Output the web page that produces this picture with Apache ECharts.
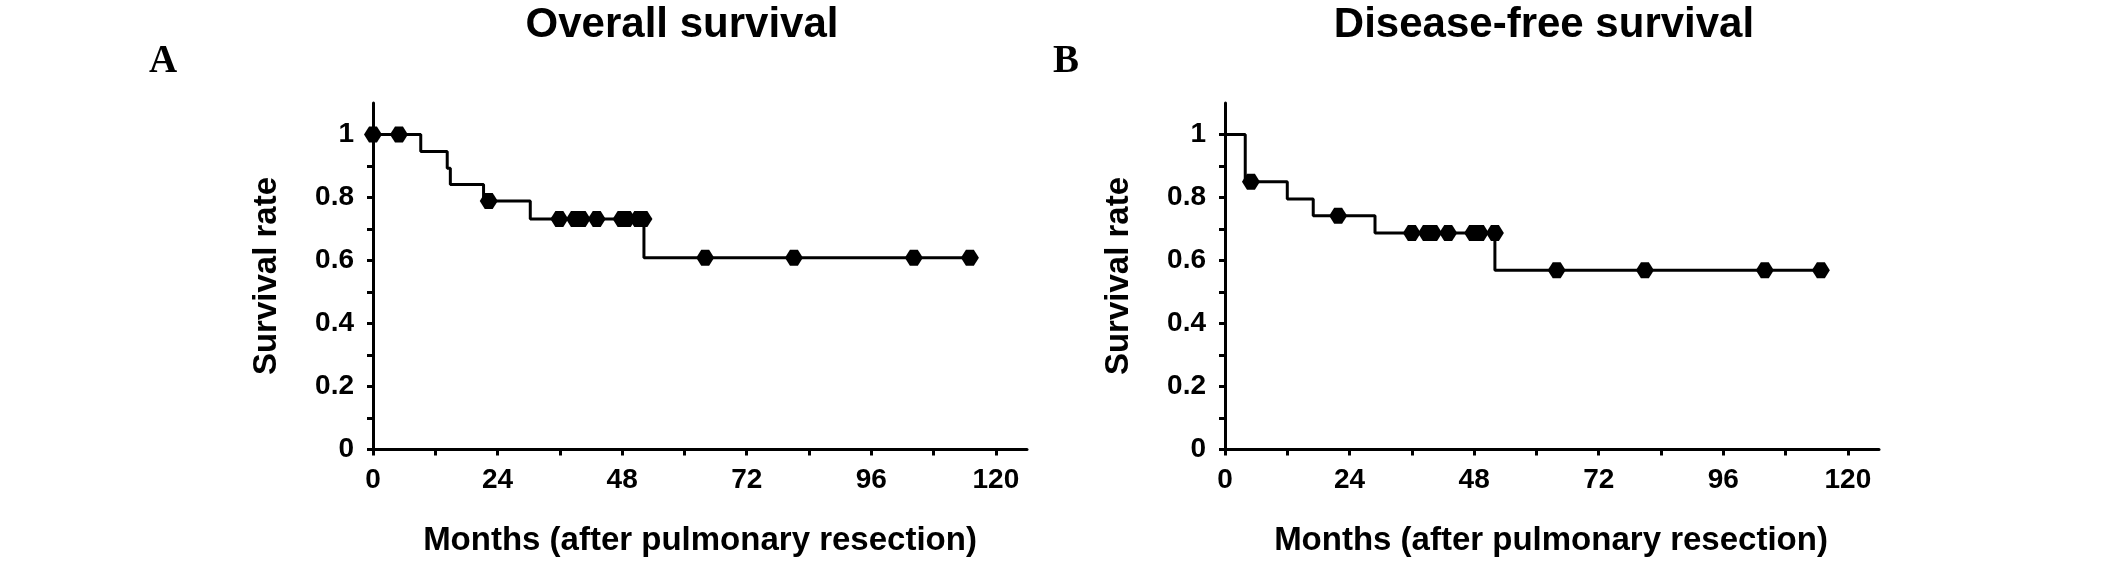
<!DOCTYPE html>
<html>
<head>
<meta charset="utf-8">
<script src="https://cdn.jsdelivr.net/npm/echarts@6/dist/echarts.min.js"></script>
<style>
html,body{margin:0;padding:0;background:#fff;}
#c{width:2126px;height:574px;}
</style>
</head>
<body>
<div id="c"></div>
<script>
// Overall survival (panel A)
const osTimes = [0, 9.2, 14.3, 14.9, 21.3, 30.3, 52.2, 115];
const osSurv = [1, 0.946, 0.893, 0.841, 0.789, 0.732, 0.609, 0.609];
const osCensorTimes = [0, 5, 22.3, 35.9, 38.9, 40.2, 43.1, 47.9, 48.9, 51.1, 52.1, 64, 81.1, 104.2, 115];
const osCensorSurv = [1, 1, 0.789, 0.732, 0.732, 0.732, 0.732, 0.732, 0.732, 0.732, 0.732, 0.609, 0.609, 0.609, 0.609];

// Disease-free survival (panel B)
const dfsTimes = [0, 3.9, 12.0, 17.0, 28.9, 52.0, 114.8];
const dfsSurv = [1, 0.850, 0.795, 0.742, 0.687, 0.569, 0.569];
const dfsCensorTimes = [5, 21.8, 36.0, 38.9, 40.1, 43.0, 47.8, 49.1, 52.0, 63.9, 80.9, 104.0, 114.8];
const dfsCensorSurv = [0.850, 0.742, 0.687, 0.687, 0.687, 0.687, 0.687, 0.687, 0.687, 0.569, 0.569, 0.569, 0.569];

// Ticks and labels
const xTickValues = [0, 12, 24, 36, 48, 60, 72, 84, 96, 108, 120];
const xLabelValues = [0, 24, 48, 72, 96, 120];
const yTickValues = [0, 0.1, 0.2, 0.3, 0.4, 0.5, 0.6, 0.7, 0.8, 0.9, 1];
const yLabelValues = [0, 0.2, 0.4, 0.6, 0.8, 1];

const panelTitles = ['Overall survival', 'Disease-free survival'];
const panelLetters = ['A', 'B'];
const xTitle = 'Months (after pulmonary resection)';
const yTitle = 'Survival rate';

const zip = (a, b) => a.map((v, i) => [v, b[i]]);

const SANS = 'Liberation Sans, Arial, sans-serif';
const SERIF = 'Liberation Serif, Times New Roman, serif';
const marker = 'path://M0,50 L28,0 L72,0 L100,50 L72,100 L28,100 Z';

const gridLefts = [373, 1225];
const gridW = 654, gridTop = 103, gridH = 346.5;

function xAxisCfg(i) {
  return {
    type: 'value', gridIndex: i, min: 0, max: 126,
    axisLine: {show: true, onZero: false, lineStyle: {color: '#000', width: 3}},
    axisTick: {show: true, customValues: xTickValues, length: 6, lineStyle: {color: '#000', width: 3}},
    axisLabel: {customValues: xLabelValues, margin: 17, color: '#000', fontSize: 28, fontWeight: 'bold', fontFamily: SANS},
    splitLine: {show: false}
  };
}
function yAxisCfg(i) {
  return {
    type: 'value', gridIndex: i, min: 0, max: 1.1,
    axisLine: {show: true, onZero: false, lineStyle: {color: '#000', width: 3}},
    axisTick: {show: true, customValues: yTickValues, length: 6, lineStyle: {color: '#000', width: 3}},
    axisLabel: {customValues: yLabelValues, margin: 19, color: '#000', fontSize: 28, fontWeight: 'bold', fontFamily: SANS},
    splitLine: {show: false}
  };
}
function txt(text, x, y, font, rotation) {
  return {
    type: 'text', x: x, y: y, rotation: rotation || 0, silent: true,
    style: {text: text, font: font, fill: '#000', align: 'center', verticalAlign: 'middle', textAlign: 'center', textVerticalAlign: 'middle'}
  };
}

const chart = echarts.init(document.getElementById('c'), null, {renderer: 'canvas'});
chart.setOption({
  animation: false,
  backgroundColor: '#fff',
  grid: gridLefts.map(l => ({left: l, top: gridTop, width: gridW, height: gridH})),
  xAxis: [xAxisCfg(0), xAxisCfg(1)],
  yAxis: [yAxisCfg(0), yAxisCfg(1)],
  graphic: [
    txt(panelLetters[0], 163, 62, 'bold 39px ' + SERIF),
    txt(panelLetters[1], 1066, 62, 'bold 39px ' + SERIF),
    txt(panelTitles[0], 682, 25, 'bold 42px ' + SANS),
    txt(panelTitles[1], 1544, 25, 'bold 42px ' + SANS),
    txt(xTitle, 700, 541, 'bold 33px ' + SANS),
    txt(xTitle, 1551, 541, 'bold 33px ' + SANS),
    txt(yTitle, 267, 276, 'bold 33px ' + SANS, Math.PI / 2),
    txt(yTitle, 1119, 276, 'bold 33px ' + SANS, Math.PI / 2)
  ],
  series: [
    {type: 'line', xAxisIndex: 0, yAxisIndex: 0, step: 'end', showSymbol: false, data: zip(osTimes, osSurv),
     lineStyle: {color: '#000', width: 3}, z: 2},
    {type: 'scatter', xAxisIndex: 0, yAxisIndex: 0, data: zip(osCensorTimes, osCensorSurv),
     symbol: marker, symbolSize: [18, 16], itemStyle: {color: '#000', opacity: 1}, z: 3},
    {type: 'line', xAxisIndex: 1, yAxisIndex: 1, step: 'end', showSymbol: false, data: zip(dfsTimes, dfsSurv),
     lineStyle: {color: '#000', width: 3}, z: 2},
    {type: 'scatter', xAxisIndex: 1, yAxisIndex: 1, data: zip(dfsCensorTimes, dfsCensorSurv),
     symbol: marker, symbolSize: [18, 16], itemStyle: {color: '#000', opacity: 1}, z: 3}
  ]
});
</script>
</body>
</html>
